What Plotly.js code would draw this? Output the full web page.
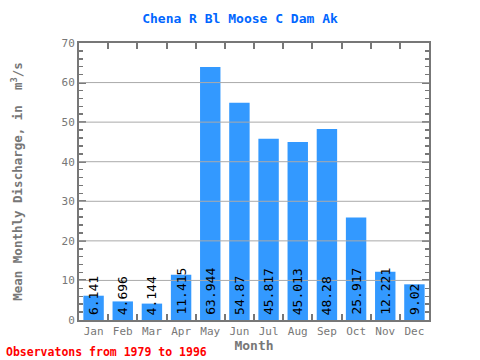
<!DOCTYPE html>
<html><head><meta charset="utf-8">
<script src="https://cdn.plot.ly/plotly-3.0.1.min.js"></script>
<style>body{margin:0;padding:0;}#c{width:480px;height:360px;}</style>
</head><body><div id="c"></div>
<script>
const months = ["Jan","Feb","Mar","Apr","May","Jun","Jul","Aug","Sep","Oct","Nov","Dec"];
const discharge = [6.141,4.696,4.144,11.415,63.944,54.87,45.817,45.013,48.28,25.917,12.221,9.02];
const labels = ["6.141","4.696","4.144","11.415","63.944","54.87","45.817","45.013","48.28","25.917","12.221","9.02"];
const gridVals = [10,20,30,40,50,60];

const mono = "DejaVu Sans Mono, monospace";
const annotations = months.map((m,i)=>({
  x: m, y: 0, xref:'x', yref:'y', text: labels[i], showarrow:false,
  textangle:-90, yanchor:'bottom', xanchor:'center', yshift:3,
  font:{family:mono, size:13, color:'#000'}
}));
annotations.push({xref:'paper', yref:'paper', x:-0.215, y:-0.083, xanchor:'left', yanchor:'top',
  text:'<b>Observatons from 1979 to 1996</b>', showarrow:false,
  font:{family:mono, size:11.5, color:'#ff0000'}});

const shapes = gridVals.map(v=>({type:'line', xref:'paper', yref:'y', x0:0, x1:1, y0:v, y1:v,
  line:{color:'#aaaaaa', width:1}, layer:'above'}));

Plotly.newPlot('c', [{
  type:'bar', x: months, y: discharge, marker:{color:'#3399ff'}, hoverinfo:'none'
}], {
  width:480, height:360,
  margin:{l:79, r:51, t:43, b:40},
  paper_bgcolor:'#fff', plot_bgcolor:'#fff',
  bargap:0.3,
  showlegend:false,
  title:{text:'<b>Chena R Bl Moose C Dam Ak</b>', x:0.5, xanchor:'center', y:0.95, yanchor:'middle',
    font:{family:mono, size:13, color:'#0066ff'}},
  xaxis:{type:'category', showline:true, linecolor:'#777', linewidth:2, mirror:'allticks',
    ticks:'inside', ticklen:6, tickwidth:2, tickcolor:'#777', tickson:'boundaries',
    tickangle:0, automargin:false,
    showgrid:false, tickfont:{family:mono, size:11, color:'#777'},
    title:{text:'<b>Month</b>', font:{family:mono, size:13, color:'#777'}, standoff:0}},
  yaxis:{range:[0,70], showline:true, linecolor:'#777', linewidth:2, mirror:'allticks',
    ticks:'inside', ticklen:7, tickwidth:2, tickcolor:'#777', dtick:10, automargin:false,
    minor:{dtick:2, ticks:'inside', ticklen:4, tickwidth:1.5, tickcolor:'#777', showgrid:false},
    showgrid:false, zeroline:false, tickfont:{family:mono, size:11, color:'#777'},
    title:{text:'<b>Mean Monthly Discharge, in  m<sup>3</sup>/s</b>', font:{family:mono, size:12.5, color:'#777'}, standoff:36}},
  annotations: annotations,
  shapes: shapes
}, {staticPlot:true});
</script></body></html>
